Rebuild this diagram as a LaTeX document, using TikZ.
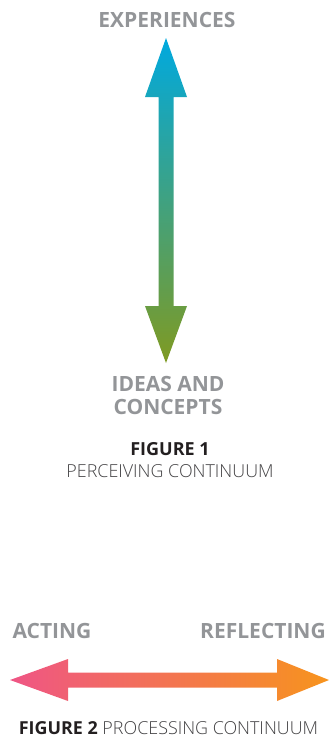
\documentclass[tikz,border=0pt]{standalone}
\usepackage{fontspec}
\setmainfont{Open Sans}
\newfontfamily\oslight{Open Sans Light}
\definecolor{lblgray}{HTML}{939598}
\definecolor{capdark}{HTML}{231F20}
\definecolor{capgray}{HTML}{414042}
\definecolor{topblue}{HTML}{00A9DF}
\definecolor{botgreen}{HTML}{7F9A22}
\definecolor{leftpink}{HTML}{EF5585}
\definecolor{rightorange}{HTML}{F7941D}
\tikzset{
  endlabel/.style={font=\bfseries\fontsize{21}{23}\selectfont, text=lblgray, anchor=base, inner sep=0pt, align=center},
  capbold/.style={font=\bfseries\fontsize{18}{20}\selectfont, text=capdark, anchor=base, inner sep=0pt},
  caplight/.style={font=\oslight\fontsize{17.9}{20}\selectfont, text=capgray, anchor=base, inner sep=0pt},
}
\begin{document}
\begin{tikzpicture}[x=1pt,y=-1pt]
\useasboundingbox (0,0) rectangle (330,737);
% vertical double arrow
\shade[top color=topblue, bottom color=botgreen]
  (166,38) -- (187,97) -- (173.5,97) -- (173.5,306) -- (187,306) -- (166,363)
  -- (145,306) -- (158.5,306) -- (158.5,97) -- (145,97) -- cycle;
\node[endlabel] (exp) at (167,27) {EXPERIENCES};
\node[endlabel] (ideas) at (168,391) {IDEAS AND};
\node[endlabel] (conc) at (168,414) {CONCEPTS};
\node[capbold] (fig1) at (170,455) {FIGURE 1};
\node[caplight] (perc) at (170,477) {PERCEIVING CONTINUUM};
% horizontal double arrow
\shade[left color=leftpink, right color=rightorange]
  (10,680) -- (68,659) -- (68,672.5) -- (277,672.5) -- (277,659) -- (329,680)
  -- (277,701) -- (277,687.5) -- (68,687.5) -- (68,701) -- cycle;
\node[endlabel] (act) at (52,638) {ACTING};
\node[endlabel] (refl) at (263,638) {REFLECTING};
\node[anchor=base, inner sep=0pt, text=capgray, font=\fontsize{17.9}{20}\selectfont] (fig2) at (168.5,734) {{\bfseries\color{capdark}FIGURE 2} {\oslight PROCESSING CONTINUUM}};
\end{tikzpicture}
\end{document}
